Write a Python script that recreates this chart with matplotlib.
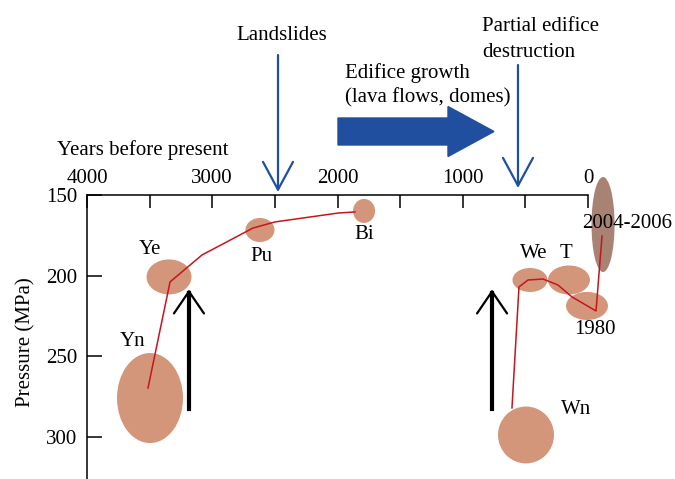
import numpy as np
import matplotlib
matplotlib.use('Agg')
import matplotlib.pyplot as plt
from matplotlib.patches import Ellipse, FancyArrow

# eruption / sample groups (years before present, pressure in MPa)
blob_names = ['Yn', 'Ye', 'Pu', 'Bi', 'We', 'T', '1980', '2004-2006', 'Wn']
blob_year = [3497, 3345, 2619, 1788, 463, 152, 8, -120, 495]
blob_pressure = [275.9, 200.8, 171.7, 159.9, 202.7, 202.7, 218.8, 168.3, 298.8]
blob_year_span = [527, 359, 232, 176, 280, 335, 335, 184, 447]
blob_press_span = [55.8, 21.7, 14.9, 14.9, 14.9, 18.0, 17.4, 58.9, 35.3]

# red trend lines
path1_year = [3513, 3337, 3082, 2675, 2499, 1996, 1860]
path1_press = [269.7, 203.9, 187.2, 170.5, 166.7, 161.2, 160.5]
path2_year = [607, 551, 479, 359, 240, 128, -64, -112]
path2_press = [282.0, 207.0, 202.7, 202.1, 205.8, 213.2, 221.9, 175.4]

# events
landslide_year = 2475
destruction_year = 559
rise_years = [3186, 766]
rise_press = (282.7, 208.6)

x_ticks = [4000, 3500, 3000, 2500, 2000, 1500, 1000, 500, 0]
x_ticklabels = ['4000', '', '3000', '', '2000', '', '1000', '', '0']
y_ticks = [150, 200, 250, 300]

blob_color = '#d4967a'
late_color = '#a88273'
red = '#c4161c'
blue = '#1f4f9e'

plt.rcParams['font.family'] = ['Liberation Serif', 'DejaVu Serif']
plt.rcParams['font.size'] = 15

W, H = 675, 479
fig = plt.figure(figsize=(W / 100, H / 100), dpi=100)
ax = fig.add_axes([87 / W, 0, (588 - 87) / W, 1 - 195 / H])

def fx(x):
    return x / W

def fy(y):
    return 1 - y / H

for i, name in enumerate(blob_names):
    c = late_color if name == '2004-2006' else blob_color
    e = Ellipse((blob_year[i], blob_pressure[i]), blob_year_span[i], blob_press_span[i],
                facecolor=c, edgecolor='none', clip_on=False, zorder=2)
    ax.add_patch(e)

ax.plot(path1_year, path1_press, color=red, lw=1.1, zorder=3, clip_on=False)
ax.plot(path2_year, path2_press, color=red, lw=1.1, zorder=3, clip_on=False)

# blob labels
label_pos = {'Yn': (3633, 241), 'Ye': (3497, 184), 'Pu': (2611, 188.4),
             'Bi': (1788, 174.8), 'We': (431, 186), 'T': (176, 186),
             '1980': (-56, 233.7), '2004-2006': (-311, 167.4), 'Wn': (96, 283.3)}
for name in blob_names:
    x, y = label_pos[name]
    ax.text(x, y, name, ha='center', va='center', fontsize=15, zorder=4, clip_on=False)

# black upward arrows
for yr in rise_years:
    ax.plot([yr, yr], [rise_press[0], rise_press[1] + 2], color='black', lw=3, zorder=3)
    ax.annotate('', xy=(yr, rise_press[1]), xytext=(yr, rise_press[0]),
                arrowprops=dict(arrowstyle='->,head_length=15.8,head_width=10.8',
                                mutation_scale=1, color='black', lw=1.6,
                                shrinkA=0, shrinkB=0), zorder=3)

# blue event arrows
for yr, top, tip in [(landslide_year, 55, 192), (destruction_year, 65, 188)]:
    ax.annotate('', xy=(yr, fy(tip)), xytext=(yr, fy(top)),
                xycoords=('data', 'figure fraction'), textcoords=('data', 'figure fraction'),
                arrowprops=dict(arrowstyle='->,head_length=20,head_width=10.8',
                                mutation_scale=1, color=blue, lw=1.6,
                                shrinkA=0, shrinkB=0), annotation_clip=False)

fig.text(fx(282), fy(40), 'Landslides', ha='center', va='baseline')
fig.text(fx(482), fy(31), 'Partial edifice', ha='left', va='baseline')
fig.text(fx(482), fy(57), 'destruction', ha='left', va='baseline')
fig.text(fx(345), fy(78), 'Edifice growth', ha='left', va='baseline')
fig.text(fx(345), fy(102), '(lava flows, domes)', ha='left', va='baseline')
fig.text(fx(57), fy(155), 'Years before present', ha='left', va='baseline')

arr = FancyArrow(fx(338), fy(131.5), fx(494) - fx(338), 0, width=27 / H,
                 head_width=50 / H, head_length=(494 - 448) / W,
                 length_includes_head=True, color=blue, transform=fig.transFigure)
fig.patches.append(arr)

ax.set_xlim(4000, 0)
ax.set_ylim(326.1, 150)
ax.xaxis.tick_top()
ax.set_xticks(x_ticks)
ax.set_xticklabels(x_ticklabels)
ax.set_yticks(y_ticks)
ax.tick_params(axis='x', direction='in', length=9.4, width=1.1, pad=5, labelsize=15)
ax.tick_params(axis='y', direction='in', length=10.8, width=1.1, pad=7, labelsize=15)
for s in ['bottom', 'right']:
    ax.spines[s].set_visible(False)
for s in ['top', 'left']:
    ax.spines[s].set_linewidth(1.1)
ax.set_facecolor('none')
ax.set_ylabel('Pressure (MPa)', fontsize=15)
ax.yaxis.set_label_coords(-0.102, 0.482)

fig.savefig('out.png', dpi=100)
